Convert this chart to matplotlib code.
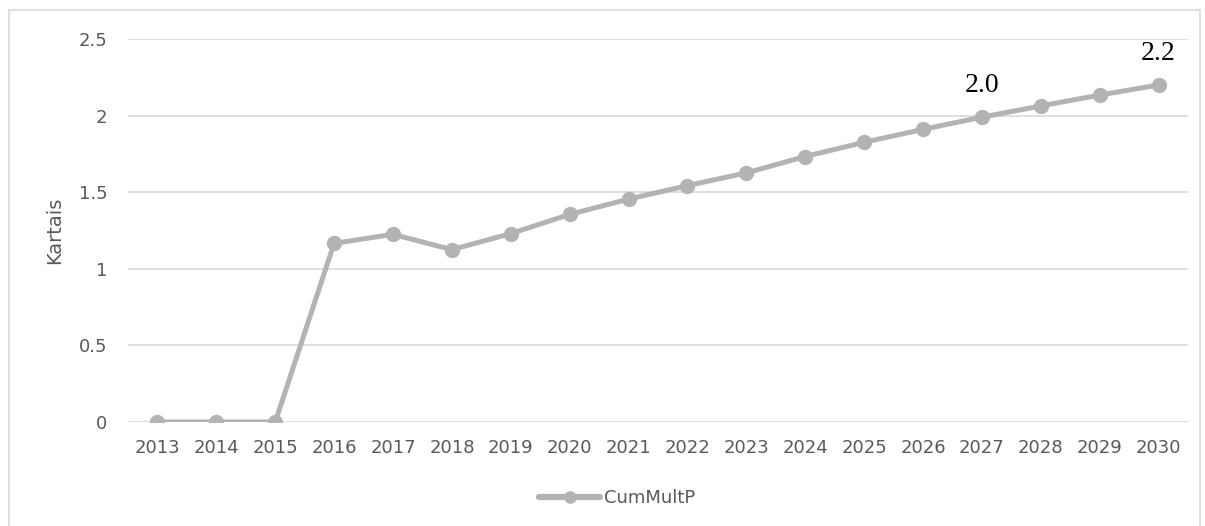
import matplotlib
matplotlib.use("Agg")
import matplotlib.pyplot as plt
from matplotlib.patches import Rectangle

years = [str(y) for y in range(2013, 2031)]
values = [0.0, 0.0, 0.0, 1.166, 1.225, 1.125, 1.23, 1.355, 1.455, 1.543, 1.626,
          1.733, 1.826, 1.910, 1.990, 2.063, 2.134, 2.200]
series_name = "CumMultP"
y_ticks = [0, 0.5, 1, 1.5, 2, 2.5]
y_tick_labels = ["0", "0.5", "1", "1.5", "2", "2.5"]
annot_years = ["2027", "2030"]
annot_labels = ["2.0", "2.2"]
y_label = "Kartais"

line_color = "#b3b3b3"
text_color = "#595959"
grid_color = "#d9d9d9"

fig = plt.figure(figsize=(12.05, 5.26), dpi=100)
fig.patches.append(Rectangle((8.5 / 1205, -0.05), 1191 / 1205, 1.05 - 10.5 / 526,
                             transform=fig.transFigure, fill=False,
                             edgecolor="#d9d9d9", linewidth=1.2))
ax = fig.add_axes([128 / 1205, 1 - 422 / 526, (1188 - 128) / 1205, (422 - 39) / 526])

x = list(range(len(years)))
ax.plot(x, values, color=line_color, linewidth=3.6, marker="o", markersize=10,
        label=series_name, solid_capstyle="round", zorder=3)

ax.set_xlim(-0.5, len(years) - 0.5)
ax.set_ylim(0, 2.5)
ax.set_xticks(x)
ax.set_xticklabels(years)
ax.set_yticks(y_ticks)
ax.set_yticklabels(y_tick_labels)
ax.grid(axis="y", color=grid_color, linewidth=1.2)
ax.set_axisbelow(True)
for s in ax.spines.values():
    s.set_visible(False)
ax.tick_params(axis="both", length=0, colors=text_color, labelsize=13)
ax.tick_params(axis="y", pad=15)
ax.tick_params(axis="x", pad=12)
ax.set_ylabel(y_label, color=text_color, fontsize=14, labelpad=10)

for yr, lab in zip(annot_years, annot_labels):
    i = years.index(yr)
    ax.annotate(lab, (i, values[i]), xytext=(0, 23), textcoords="offset points",
                ha="center", va="center", fontsize=20, family="Liberation Serif",
                color="black")

leg = fig.legend(loc="center", bbox_to_anchor=(617 / 1205, 1 - 498 / 526), frameon=False,
                 fontsize=13, handlelength=3.4, handletextpad=0.2, markerscale=0.8)
for t in leg.get_texts():
    t.set_color(text_color)
for h in leg.legend_handles:
    h.set_linewidth(4.5)

fig.savefig("out.png", dpi=100)
